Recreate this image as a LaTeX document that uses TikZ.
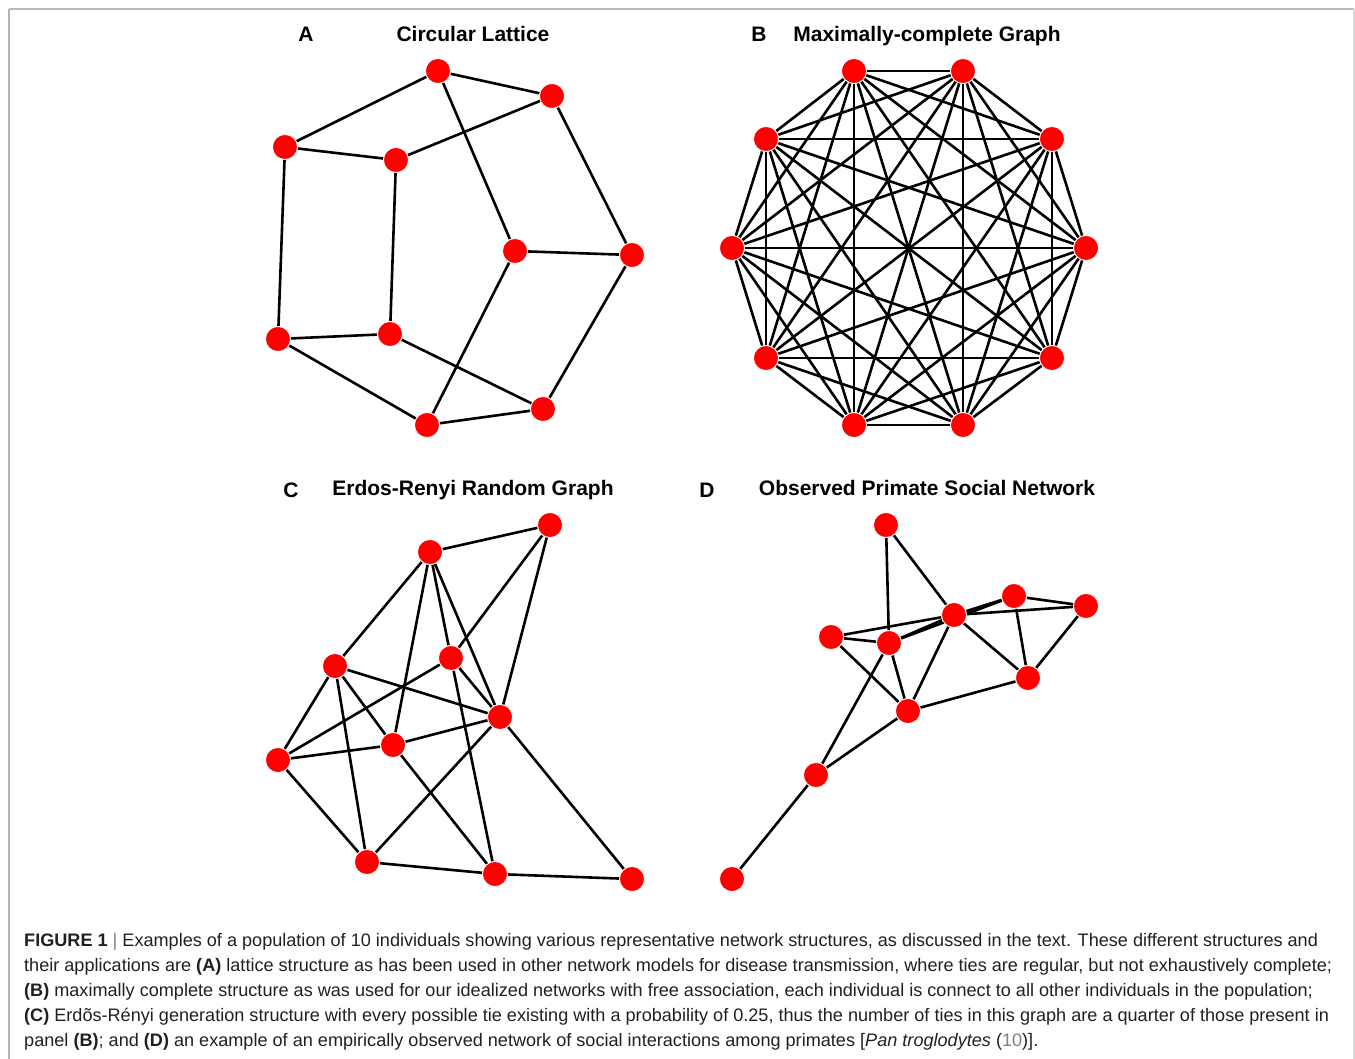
\documentclass[tikz,border=0pt]{standalone}
\usepackage{fontspec}
\setmainfont{Liberation Sans}
\newfontfamily\capfont{Liberation Sans}
\usetikzlibrary{backgrounds}
\definecolor{captxt}{HTML}{231F20}
\tikzset{
  vtx/.style={circle, fill=red, draw=white, line width=0.8pt, minimum size=25pt, inner sep=0pt},
  edge/.style={line width=2.6pt, black},
  ttl/.style={font=\fontsize{21}{25}\selectfont\bfseries, inner sep=0pt, anchor=base},
  capline/.style={font=\capfont\fontsize{18.1}{21}\selectfont, text=captxt, inner sep=0pt, anchor=base west},
}
\begin{document}
\begin{tikzpicture}[x=1pt,y=-1pt]
\useasboundingbox (0,0) rectangle (1355,1058);
% frame
\draw[gray!60, line width=1.2pt] (9,1080) -- (9,9);
\draw[gray!55, line width=2pt] (9,9) -- (1354,9);
\draw[gray!30, line width=1.2pt] (1354,9) -- (1354,1080);

% titles
\node[ttl] (tA) at (306,41) {A};
\node[ttl] (tAt) at (473,41) {Circular Lattice};
\node[ttl] (tB) at (759,41) {B};
\node[ttl] (tBt) at (927,41) {Maximally-complete Graph};
\node[ttl] (tC) at (291,497) {C};
\node[ttl] (tCt) at (473,495) {Erdos-Renyi Random Graph};
\node[ttl] (tD) at (707,497) {D};
\node[ttl] (tDt) at (927,495) {Observed Primate Social Network};

% Panel A
\node[vtx] (a1) at (438,71) {};
\node[vtx] (a2) at (552,96) {};
\node[vtx] (a3) at (285,147) {};
\node[vtx] (a4) at (396,160) {};
\node[vtx] (a5) at (515,251) {};
\node[vtx] (a6) at (632,255) {};
\node[vtx] (a7) at (278,339) {};
\node[vtx] (a8) at (390,334) {};
\node[vtx] (a9) at (427,425) {};
\node[vtx] (a10) at (543,409) {};
\begin{scope}[on background layer]
\foreach \u/\v in {a1/a2,a1/a3,a1/a5,a2/a4,a2/a6,a3/a4,a3/a7,a4/a8,a5/a6,a5/a9,a6/a10,a7/a8,a7/a9,a8/a10,a9/a10}
  \draw[edge] (\u) -- (\v);
\end{scope}

% Panel B
\node[vtx] (b1) at (854,71) {};
\node[vtx] (b2) at (963,71) {};
\node[vtx] (b3) at (1052,139) {};
\node[vtx] (b4) at (1086,248) {};
\node[vtx] (b5) at (1052,358) {};
\node[vtx] (b6) at (963,425) {};
\node[vtx] (b7) at (854,425) {};
\node[vtx] (b8) at (766,358) {};
\node[vtx] (b9) at (732,248) {};
\node[vtx] (b10) at (766,139) {};
\begin{scope}[on background layer]
\foreach \i in {1,...,9}{
  \pgfmathtruncatemacro\kk{\i+1}
  \foreach \j in {\kk,...,10}
    \draw[edge] (b\i) -- (b\j);
}
\end{scope}

% Panel C
\node[vtx] (c1) at (550,525) {};
\node[vtx] (c2) at (430,552) {};
\node[vtx] (c3) at (335,666) {};
\node[vtx] (c4) at (451,658) {};
\node[vtx] (c5) at (500,717) {};
\node[vtx] (c6) at (278,760) {};
\node[vtx] (c7) at (393,745) {};
\node[vtx] (c8) at (367,862) {};
\node[vtx] (c9) at (495,874) {};
\node[vtx] (c10) at (632,879) {};
\begin{scope}[on background layer]
\foreach \u/\v in {c2/c1,c1/c4,c1/c5,c2/c3,c2/c7,c2/c4,c2/c5,c3/c5,c3/c6,c3/c7,c3/c8,c4/c5,c4/c9,c4/c6,c6/c7,c7/c5,c6/c8,c7/c9,c5/c8,c5/c10,c8/c9,c9/c10}
  \draw[edge] (\u) -- (\v);
\end{scope}

% Panel D
\node[vtx] (d1) at (886,525) {};
\node[vtx] (d2) at (954,615) {};
\node[vtx] (d3) at (1014,596) {};
\node[vtx] (d4) at (1086,606) {};
\node[vtx] (d5) at (831,637) {};
\node[vtx] (d6) at (889,643) {};
\node[vtx] (d7) at (1028,678) {};
\node[vtx] (d8) at (908,711) {};
\node[vtx] (d9) at (816,775) {};
\node[vtx] (d10) at (732,879) {};
\begin{scope}[on background layer]
\foreach \u/\v in {d1/d6,d1/d2,d5/d2,d5/d6,d6/d2,d6/d3,d2/d3,d2/d4,d3/d4,d3/d7,d2/d7,d4/d7,d5/d8,d6/d8,d2/d8,d8/d7,d8/d9,d6/d9,d9/d10}
  \draw[edge] (\u) -- (\v);
\end{scope}

% caption
\node[capline] (cap1) at (24,946) {\textbf{FIGURE 1} {\color{gray}|} Examples of a population of 10 individuals showing various representative network structures, as discussed in the text. These different structures and};
\node[capline] (cap2) at (24,971) {their applications are \textbf{(A)} lattice structure as has been used in other network models for disease transmission, where ties are regular, but not exhaustively complete;};
\node[capline] (cap3) at (24,996) {\textbf{(B)} maximally complete structure as was used for our idealized networks with free association, each individual is connect to all other individuals in the population;};
\node[capline] (cap4) at (24,1021) {\textbf{(C)} Erdõs-Rényi generation structure with every possible tie existing with a probability of 0.25, thus the number of ties in this graph are a quarter of those present in};
\node[capline] (cap5) at (24,1046) {panel \textbf{(B)}; and \textbf{(D)} an example of an empirically observed network of social interactions among primates [\textit{Pan troglodytes} ({\color{gray}10})].};
\end{tikzpicture}
\end{document}
